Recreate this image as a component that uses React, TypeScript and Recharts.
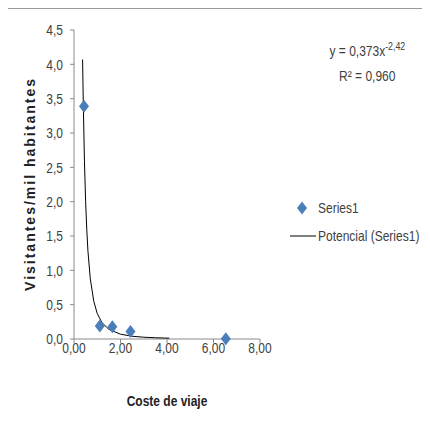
import React from 'react';
import { ScatterChart, Scatter, XAxis, YAxis, Label } from 'recharts';

// coste de viaje vs visitantes por mil habitantes
const costeViaje = [0.43, 1.11, 1.65, 2.43, 6.53];
const visitantes = [3.39, 0.19, 0.18, 0.11, 0.005];

// potential trendline
const trendX = [0.37, 0.40, 0.45, 0.50, 0.55, 0.60, 0.70, 0.85, 1.00, 1.20, 1.50, 2.00, 2.50, 3.00, 3.50, 4.10];
const trendY = [4.07, 3.42, 2.58, 2.00, 1.59, 1.28, 0.88, 0.55, 0.37, 0.24, 0.14, 0.07, 0.04, 0.026, 0.018, 0.012];

const xTicks = [0, 2, 4, 6, 8];
const yTicks = [0, 0.5, 1, 1.5, 2, 2.5, 3, 3.5, 4, 4.5];

const seriesName = 'Series1';
const trendName = 'Potencial (Series1)';

const points = costeViaje.map((x, i) => ({ x, y: visitantes[i] }));
const trend = trendX.map((x, i) => ({ x, y: trendY[i] }));

const FONT = "'Liberation Sans', Arial, sans-serif";
const SQUEEZE = 0.8; // the original text is drawn condensed
const BLUE = '#4a7ebb';
const AXIS = '#8a8a8a';
const TEXT = '#404040';

const Diamond = (props: any) => {
    const { cx, cy } = props;
    if (cx == null || cy == null) return null;
    return <polygon points={`${cx},${cy - 6.5} ${cx + 5},${cy} ${cx},${cy + 6.5} ${cx - 5},${cy}`} fill={BLUE} />;
};

const NarrowTick = (props: any) => {
    const { x, y, payload, textAnchor, fmt } = props;
    return (
        <g transform={`translate(${x},${y})`}>
            <text transform={`scale(${SQUEEZE},1)`} textAnchor={textAnchor} dy={textAnchor === 'middle' ? '0.71em' : '0.355em'}
                fill={TEXT} fontSize={15} fontFamily={FONT}>
                {fmt(payload.value)}
            </text>
        </g>
    );
};

const YLabel = () => {
    const x = 27;
    const y = 175;
    return (
        <text x={x} y={y} transform={`rotate(-90, ${x}, ${y})`} textAnchor="middle"
            fontFamily={FONT} fontWeight="bold" fontSize={14}
            letterSpacing={2} fill="#222">
            Visitantes/mil habitantes
        </text>
    );
};

const XLabel = (props: any) => {
    const { viewBox } = props;
    const cx = viewBox.x + viewBox.width / 2;
    return (
        <g transform={`translate(${cx},${viewBox.y + 67})`}>
            <text transform={`scale(${SQUEEZE},1)`} textAnchor="middle" fontFamily={FONT} fontSize={15} fontWeight="bold" fill="#222">
                Coste de viaje
            </text>
        </g>
    );
};

const narrow: React.CSSProperties = {
    display: 'inline-block',
    whiteSpace: 'nowrap',
    transform: `scaleX(${SQUEEZE})`,
};

export default function App() {
    const fx = (v: number) => v.toFixed(2).replace('.', ',');
    const fy = (v: number) => v.toFixed(1).replace('.', ',');
    return (
        <div style={{ position: 'relative', width: 421, height: 420, marginLeft: -1, borderTop: '1px solid #9a9a9a', borderLeft: '1px solid #9a9a9a', background: '#fff' }}>
            <ScatterChart width={421} height={420} margin={{ top: 21, right: 169, left: 0, bottom: 10 }}>
                <XAxis type="number" dataKey="x" domain={[0, 8]} ticks={xTicks} height={80}
                    tick={<NarrowTick fmt={fx} />}
                    tickSize={4} tickMargin={-1}
                    axisLine={{ stroke: AXIS }} tickLine={{ stroke: AXIS }}>
                    <Label content={<XLabel />} />
                </XAxis>
                <YAxis type="number" dataKey="y" domain={[0, 4.5]} ticks={yTicks} width={66}
                    tick={<NarrowTick fmt={fy} />}
                    tickSize={4} tickMargin={7} interval={0}
                    axisLine={{ stroke: AXIS }} tickLine={{ stroke: AXIS }}>
                    <Label content={<YLabel />} />
                </YAxis>
                <Scatter name={trendName} data={trend} line={{ stroke: '#000', strokeWidth: 1 }}
                    shape={() => null} isAnimationActive={false} />
                <Scatter name={seriesName} data={points} shape={<Diamond />} isAnimationActive={false} />
            </ScatterChart>

            {/* legend */}
            <div style={{ position: 'absolute', left: 280, top: 189, width: 140, height: 50, fontFamily: FONT, fontSize: 15, color: TEXT }}>
                <svg width={30} height={50} style={{ position: 'absolute', left: 0, top: 0 }}>
                    <polygon points="14,3.5 19,10 14,16.5 9,10" fill={BLUE} />
                    <line x1={2} y1={38} x2={28} y2={38} stroke="#000" strokeWidth={1} />
                </svg>
                <div style={{ position: 'absolute', left: 30, top: 1, lineHeight: '18px', transformOrigin: 'left center', ...narrow }}>{seriesName}</div>
                <div style={{ position: 'absolute', left: 30, top: 29, lineHeight: '18px', transformOrigin: 'left center', ...narrow }}>{trendName}</div>
            </div>

            {/* trendline equation */}
            <div style={{ position: 'absolute', left: 300, top: 30, width: 118, textAlign: 'center', fontFamily: FONT, fontSize: 15, color: TEXT, lineHeight: '23px' }}>
                <div><span style={{ ...narrow, transformOrigin: 'center' }}>y = 0,373x<sup style={{ fontSize: 11, verticalAlign: 0, position: 'relative', top: -6 }}>-2,42</sup></span></div>
                <div><span style={{ ...narrow, transformOrigin: 'center' }}>R² = 0,960</span></div>
            </div>
        </div>
    );
}
